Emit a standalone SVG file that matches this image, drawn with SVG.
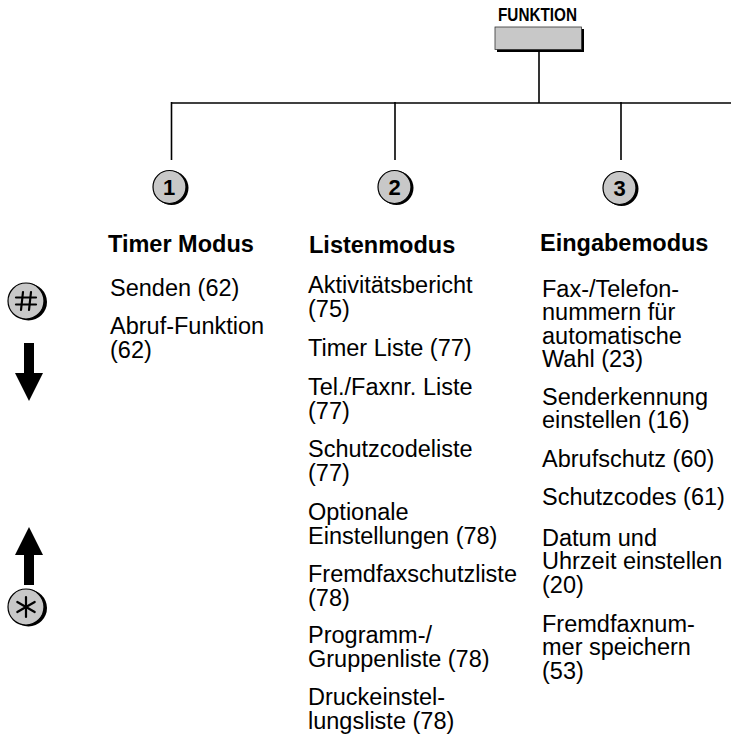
<svg xmlns="http://www.w3.org/2000/svg" width="731" height="736" viewBox="0 0 731 736">
<style>
.t{font-family:"Liberation Sans",Arial,sans-serif;font-size:23.5px;fill:#000}
.h{font-family:"Liberation Sans",Arial,sans-serif;font-size:23.5px;font-weight:bold;fill:#000}
.n{font-family:"Liberation Sans",Arial,sans-serif;font-size:22px;font-weight:bold;fill:#000;text-anchor:middle}
.ln{stroke:#000;stroke-width:1.6;fill:none}
.key{fill:#c8c8c8;stroke:#000;stroke-width:1.2}
.sh{fill:#000}
.g{stroke:#000;stroke-width:2.2;fill:none;stroke-linecap:round}
</style>
<g id="connectors">
<line class="ln" x1="539" y1="50" x2="539" y2="103"/>
<line class="ln" x1="171" y1="103" x2="731" y2="103"/>
<line class="ln" x1="171.5" y1="102" x2="171.5" y2="160"/>
<line class="ln" x1="395" y1="102" x2="395" y2="160"/>
<line class="ln" x1="621" y1="102" x2="621" y2="160"/>
</g>
<g id="funktion">
<text x="498" y="21" font-family="'Liberation Sans',Arial,sans-serif" font-weight="bold" font-size="17.5" textLength="79" lengthAdjust="spacingAndGlyphs">FUNKTION</text>
<rect x="497" y="29" width="87" height="23" fill="#000"/>
<rect x="495" y="27" width="86.5" height="22.5" fill="#c8c8c8" stroke="#333" stroke-width="0.8"/>
</g>
<g id="node1">
<circle class="sh" cx="171.5" cy="188" r="17"/>
<circle class="key" cx="169.5" cy="187" r="16.5"/>
<text class="n" x="169" y="195">1</text>
</g>
<g id="node2">
<circle class="sh" cx="396.5" cy="188" r="17"/>
<circle class="key" cx="394.5" cy="187" r="16.5"/>
<text class="n" x="394.5" y="195">2</text>
</g>
<g id="node3">
<circle class="sh" cx="621.5" cy="189" r="17"/>
<circle class="key" cx="619.5" cy="188" r="16.5"/>
<text class="n" x="619.5" y="196">3</text>
</g>
<g id="col1">
<text class="h" x="108" y="252">Timer Modus</text>
<text class="t" x="110" y="296">Senden (62)</text>
<text class="t" x="110" y="334">Abruf-Funktion<tspan x="110" dy="24">(62)</tspan></text>
</g>
<g id="col2">
<text class="h" x="309" y="253">Listenmodus</text>
<text class="t" x="308" y="293">Aktivitätsbericht<tspan x="308" dy="24">(75)</tspan></text>
<text class="t" x="308" y="356">Timer Liste (77)</text>
<text class="t" x="308" y="395">Tel./Faxnr. Liste<tspan x="308" dy="24">(77)</tspan></text>
<text class="t" x="308" y="457">Schutzcodeliste<tspan x="308" dy="24">(77)</tspan></text>
<text class="t" x="308" y="520">Optionale<tspan x="308" dy="24">Einstellungen (78)</tspan></text>
<text class="t" x="308" y="582">Fremdfaxschutzliste<tspan x="308" dy="23.5">(78)</tspan></text>
<text class="t" x="308" y="643">Programm-/<tspan x="308" dy="24">Gruppenliste (78)</tspan></text>
<text class="t" x="308" y="705">Druckeinstel-<tspan x="308" dy="24">lungsliste (78)</tspan></text>
</g>
<g id="col3">
<text class="h" x="540" y="251">Eingabemodus</text>
<text class="t" x="542" y="297">Fax-/Telefon-<tspan x="542" dy="23.3">nummern für</tspan><tspan x="542" dy="23.3">automatische</tspan><tspan x="542" dy="23.3">Wahl (23)</tspan></text>
<text class="t" x="542" y="405">Senderkennung<tspan x="542" dy="23.3">einstellen (16)</tspan></text>
<text class="t" x="542" y="467">Abrufschutz (60)</text>
<text class="t" x="542" y="505">Schutzcodes (61)</text>
<text class="t" x="542" y="546">Datum und<tspan x="542" dy="23.3">Uhrzeit einstellen</tspan><tspan x="542" dy="23.3">(20)</tspan></text>
<text class="t" x="542" y="632">Fremdfaxnum-<tspan x="542" dy="23.3">mer speichern</tspan><tspan x="542" dy="23.3">(53)</tspan></text>
</g>
<g id="key-hash">
<circle class="sh" cx="28.5" cy="302" r="18.5"/>
<circle class="key" cx="26" cy="301" r="18"/>
<line class="g" x1="23" y1="292" x2="21" y2="310"/>
<line class="g" x1="31" y1="292" x2="29" y2="310"/>
<line class="g" x1="16" y1="297.5" x2="36" y2="297.5"/>
<line class="g" x1="16" y1="304.5" x2="36" y2="304.5"/>
</g>
<g id="arrow-down">
<rect x="24" y="343" width="10" height="31" fill="#000"/>
<polygon points="15,373 43,373 29,401" fill="#000"/>
</g>
<g id="arrow-up">
<polygon points="15,555 43,555 29,527" fill="#000"/>
<rect x="24" y="554" width="10" height="31" fill="#000"/>
</g>
<g id="key-star">
<circle class="sh" cx="28.5" cy="608" r="18.5"/>
<circle class="key" cx="26" cy="607" r="18"/>
<line class="g" x1="26" y1="597" x2="26" y2="617"/>
<line class="g" x1="17.3" y1="602" x2="34.7" y2="612"/>
<line class="g" x1="17.3" y1="612" x2="34.7" y2="602"/>
</g>
</svg>
